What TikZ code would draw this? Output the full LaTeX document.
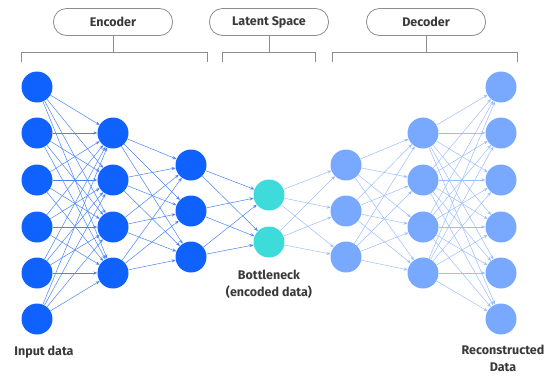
\documentclass[tikz,border=0pt]{standalone}
\usepackage{fontspec}
\setmainfont{Fira Sans}
\usetikzlibrary{arrows.meta}
\definecolor{encblue}{HTML}{0F62FE}
\definecolor{decblue}{HTML}{78A9FF}
\definecolor{latcyan}{HTML}{3DDBD9}
\definecolor{encline}{HTML}{4A84F5}
\definecolor{decline}{HTML}{9CBEFF}
\definecolor{framegray}{HTML}{8D8D8D}
\definecolor{textgray}{HTML}{393939}
\tikzset{
  neuron/.style = {circle, inner sep = 0pt, minimum size = 31pt},
  encnode/.style = {neuron, fill = encblue},
  latnode/.style = {neuron, fill = latcyan},
  decnode/.style = {neuron, fill = decblue},
  encedge/.style = {draw = encline, line width = 0.5pt, -{Stealth[length = 4pt, width = 3.2pt]}},
  decedge/.style = {draw = decline, line width = 0.5pt, -{Stealth[length = 4pt, width = 3.2pt]}},
  partbox/.style = {draw = framegray, line width = 0.8pt, rounded corners = 13pt, minimum width = 119pt, minimum height = 27pt, inner sep = 0pt, font = \fontsize{12.5}{14}\selectfont\bfseries, text = textgray},
  bracket/.style = {draw = framegray, line width = 0.8pt},
  caption/.style = {align = center, font = \fontsize{12.5}{17}\selectfont\bfseries, text = textgray}
}
\begin{document}
\begin{tikzpicture}[x = 1pt, y = -1pt]
\useasboundingbox (0,0) rectangle (548,376);
% part labels
\node[partbox] (enc) at (113,22) {Encoder};
\node[partbox] (lat) at (269,22) {Latent Space};
\node[partbox] (dec) at (426,22) {Decoder};
\foreach \p/\l/\r in {enc/21/207, lat/222/315, dec/332/517} {
  \coordinate (\p-l) at (\l,62);
  \coordinate (\p-r) at (\r,62);
  \draw[bracket] (\p-l) -- (\p-l |- 0,52) -- (\p-r |- 0,52) -- (\p-r);
  \draw[bracket] (\p.south) -- (\p.south |- 0,52);
}
% layers
\foreach \i/\y in {1/87, 2/133, 3/180, 4/227, 5/273, 6/319} \node[encnode] (a\i) at (37,\y) {};
\foreach \i/\y in {1/133, 2/180, 3/227, 4/273} \node[encnode] (b\i) at (113,\y) {};
\foreach \i/\y in {1/165, 2/211, 3/257} \node[encnode] (c\i) at (191,\y) {};
\foreach \i/\y in {1/195, 2/242} \node[latnode] (z\i) at (269,\y) {};
\foreach \i/\y in {1/165, 2/211, 3/257} \node[decnode] (d\i) at (346,\y) {};
\foreach \i/\y in {1/133, 2/180, 3/227, 4/273} \node[decnode] (e\i) at (423,\y) {};
\foreach \i/\y in {1/87, 2/133, 3/180, 4/227, 5/273, 6/319} \node[decnode] (f\i) at (501,\y) {};
% connections
\foreach \i in {1,...,6} \foreach \j in {1,...,4} \draw[encedge] (a\i) -- (b\j);
\foreach \i in {1,...,4} \foreach \j in {1,...,3} \draw[encedge] (b\i) -- (c\j);
\foreach \i in {1,...,3} \foreach \j in {1,2} \draw[encedge] (c\i) -- (z\j);
\foreach \i in {1,2} \foreach \j in {1,...,3} \draw[decedge] (z\i) -- (d\j);
\foreach \i in {1,...,3} \foreach \j in {1,...,4} \draw[decedge] (d\i) -- (e\j);
\foreach \i in {1,...,4} \foreach \j in {1,...,6} \draw[decedge] (e\i) -- (f\j);
% captions
\node[caption] (inlabel) at (44,352) {Input data};
\node[caption] (bnlabel) at (269,284) {Bottleneck\\(encoded data)};
\node[caption] (outlabel) at (503,358) {Reconstructed\\Data};
\end{tikzpicture}
\end{document}
